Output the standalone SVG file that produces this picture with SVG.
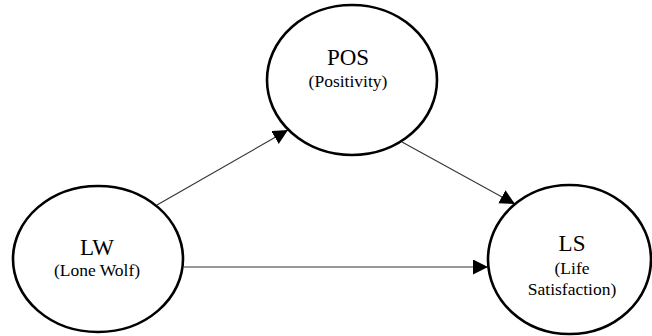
<svg xmlns="http://www.w3.org/2000/svg" width="652" height="336" viewBox="0 0 652 336">
  <style>
    .node { fill: #ffffff; stroke: #000000; stroke-width: 2.6; }
    .main { font-family: "Liberation Serif", "Times New Roman", serif; font-size: 23px; fill: #000; text-anchor: middle; }
    .sub { font-family: "Liberation Serif", "Times New Roman", serif; font-size: 17.5px; fill: #000; text-anchor: middle; }
    .edge { stroke: #333333; stroke-width: 1.1; fill: none; }
  </style>
  <defs>
    <marker id="arrow" markerUnits="userSpaceOnUse" markerWidth="16" markerHeight="16" refX="15" refY="7.5" orient="auto">
      <path d="M0,0 L15,7.5 L0,15 Z" fill="#000000"/>
    </marker>
  </defs>
  <rect width="652" height="336" fill="#ffffff"/>
  <g id="connectors">
    <line class="edge" x1="157" y1="205" x2="288" y2="130" marker-end="url(#arrow)"/>
    <line class="edge" x1="402" y1="142" x2="515" y2="204" marker-end="url(#arrow)"/>
    <line class="edge" x1="184" y1="267" x2="488" y2="267" marker-end="url(#arrow)"/>
  </g>
  <g id="node-pos">
    <ellipse class="node" cx="352" cy="80" rx="85" ry="75"/>
    <text class="main" x="348" y="65">POS</text>
    <text class="sub" x="348" y="87">(Positivity)</text>
  </g>
  <g id="node-lw">
    <ellipse class="node" cx="98" cy="259" rx="85" ry="73"/>
    <text class="main" x="97" y="255">LW</text>
    <text class="sub" x="97" y="276">(Lone Wolf)</text>
  </g>
  <g id="node-ls">
    <ellipse class="node" cx="569.5" cy="259.5" rx="81.5" ry="74.5"/>
    <text class="main" x="572" y="251">LS</text>
    <text class="sub" x="572" y="274">(Life</text>
    <text class="sub" x="572" y="295">Satisfaction)</text>
  </g>
</svg>
